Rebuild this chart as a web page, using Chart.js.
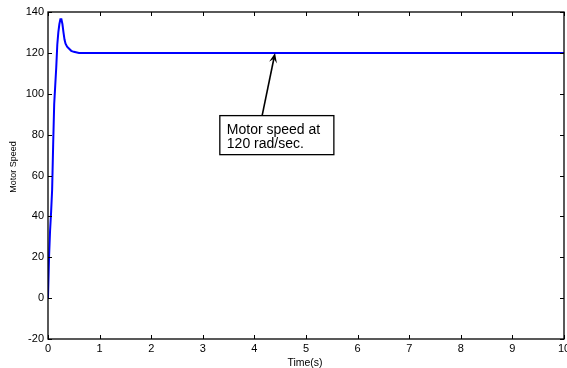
<!DOCTYPE html>
<html>
<head>
<meta charset="utf-8">
<script src="https://cdn.jsdelivr.net/npm/chart.js@4/dist/chart.umd.min.js"></script>
<style>
  html, body { margin: 0; padding: 0; background: #fff; }
  #wrap { width: 567px; height: 368px; position: relative; }
</style>
</head>
<body>
<div id="wrap"><canvas id="c" width="567" height="368"></canvas></div>
<script>
// Step response of the motor speed (rad/sec) against time (s)
const timeS = [0, 0.02, 0.04, 0.06, 0.08, 0.10, 0.12, 0.14, 0.16, 0.18, 0.20, 0.22, 0.24, 0.26, 0.28, 0.30, 0.32, 0.34, 0.37, 0.41, 0.45, 0.5, 0.6, 10];
const motorSpeed = [0, 20, 33, 42, 53, 75, 95, 104, 113, 124, 130, 134, 136.5, 136.5, 134, 130, 126.5, 124.5, 123, 122, 121, 120.5, 120, 120];

const xTicks = [0, 1, 2, 3, 4, 5, 6, 7, 8, 9, 10];
const yTicks = [-20, 0, 20, 40, 60, 80, 100, 120, 140];

const xTitle = 'Time(s)';
const yTitle = 'Motor Speed';
const noteLines = ['Motor speed at', '120 rad/sec.'];
// note box corners and arrow, in axis units (time, speed)
const noteBox = { x0: 3.33, x1: 5.54, y0: 89.3, y1: 70.2 };
const noteArrow = { from: [4.15, 89.3], to: [4.4, 120] };

const FONT = '"Liberation Sans", Arial, Helvetica, sans-serif';

const framePlugin = {
  id: 'frame',
  afterDraw(chart) {
    const { ctx, chartArea: a, scales } = chart;
    const xs = scales.x, ys = scales.y;
    ctx.save();
    // axes box
    ctx.strokeStyle = '#000';
    ctx.lineWidth = 1.3;
    ctx.strokeRect(a.left, a.top, a.right - a.left, a.bottom - a.top);
    // inward tick marks on all four sides
    const tl = 4;
    ctx.lineWidth = 1;
    ctx.beginPath();
    xTicks.forEach(v => {
      const px = Math.round(xs.getPixelForValue(v)) + 0.5;
      ctx.moveTo(px, a.bottom); ctx.lineTo(px, a.bottom - tl);
      ctx.moveTo(px, a.top); ctx.lineTo(px, a.top + tl);
    });
    yTicks.forEach(v => {
      const py = Math.round(ys.getPixelForValue(v)) + 0.5;
      ctx.moveTo(a.left, py); ctx.lineTo(a.left + tl, py);
      ctx.moveTo(a.right, py); ctx.lineTo(a.right - tl, py);
    });
    ctx.stroke();

    // axis titles
    ctx.fillStyle = '#000';
    ctx.textAlign = 'center';
    ctx.textBaseline = 'middle';
    ctx.font = '10.5px ' + FONT;
    ctx.fillText(xTitle, (a.left + a.right) / 2 - 1, 363);
    ctx.save();
    ctx.font = '9px ' + FONT;
    ctx.translate(14, 167);
    ctx.rotate(-Math.PI / 2);
    ctx.fillText(yTitle, 0, 0);
    ctx.restore();

    // annotation box
    const bx0 = xs.getPixelForValue(noteBox.x0), bx1 = xs.getPixelForValue(noteBox.x1);
    const by0 = ys.getPixelForValue(noteBox.y0), by1 = ys.getPixelForValue(noteBox.y1);
    ctx.fillStyle = '#fff';
    ctx.fillRect(bx0, by0, bx1 - bx0, by1 - by0);
    ctx.strokeStyle = '#000';
    ctx.lineWidth = 1.3;
    ctx.strokeRect(bx0, by0, bx1 - bx0, by1 - by0);
    ctx.fillStyle = '#000';
    ctx.font = '14px ' + FONT;
    ctx.textAlign = 'left';
    ctx.textBaseline = 'alphabetic';
    ctx.fillText(noteLines[0], bx0 + 7, by0 + 18);
    ctx.fillText(noteLines[1], bx0 + 7, by0 + 32);

    // arrow
    const ax0 = xs.getPixelForValue(noteArrow.from[0]), ay0 = ys.getPixelForValue(noteArrow.from[1]);
    const ax1 = xs.getPixelForValue(noteArrow.to[0]), ay1 = ys.getPixelForValue(noteArrow.to[1]);
    const ang = Math.atan2(ay1 - ay0, ax1 - ax0);
    const hl = 10, hw = 4;
    ctx.lineWidth = 1.6;
    ctx.beginPath();
    ctx.moveTo(ax0, ay0);
    ctx.lineTo(ax1 - Math.cos(ang) * hl * 0.6, ay1 - Math.sin(ang) * hl * 0.6);
    ctx.stroke();
    ctx.beginPath();
    ctx.moveTo(ax1, ay1);
    ctx.lineTo(ax1 - Math.cos(ang) * hl - Math.sin(ang) * hw, ay1 - Math.sin(ang) * hl + Math.cos(ang) * hw);
    ctx.lineTo(ax1 - Math.cos(ang) * hl * 0.6, ay1 - Math.sin(ang) * hl * 0.6);
    ctx.lineTo(ax1 - Math.cos(ang) * hl + Math.sin(ang) * hw, ay1 - Math.sin(ang) * hl - Math.cos(ang) * hw);
    ctx.closePath();
    ctx.fill();
    ctx.restore();
  }
};

new Chart(document.getElementById('c'), {
  type: 'line',
  data: {
    datasets: [{
      data: timeS.map((t, i) => ({ x: t, y: motorSpeed[i] })),
      borderColor: '#0000ff',
      borderWidth: 2,
      pointRadius: 0,
      tension: 0,
      fill: false
    }]
  },
  options: {
    responsive: false,
    animation: false,
    devicePixelRatio: 1,
    layout: { padding: { left: 0, right: 3, top: 12, bottom: 0 } },
    plugins: { legend: { display: false }, tooltip: { enabled: false } },
    scales: {
      x: {
        type: 'linear',
        min: 0, max: 10,
        afterBuildTicks(s) { s.ticks = xTicks.map(v => ({ value: v })); },
        afterFit(s) { s.height = 29; s.paddingLeft = 0; s.paddingRight = 0; },
        grid: { display: false, drawTicks: false },
        border: { display: false },
        ticks: { color: '#000', font: { family: FONT, size: 11 }, padding: 3, maxRotation: 0, autoSkip: false }
      },
      y: {
        type: 'linear',
        min: -20, max: 140,
        afterBuildTicks(s) { s.ticks = yTicks.map(v => ({ value: v })); },
        afterFit(s) { s.width = 48; s.paddingTop = 0; s.paddingBottom = 0; },
        grid: { display: false, drawTicks: false },
        border: { display: false },
        ticks: { color: '#000', font: { family: FONT, size: 11 }, padding: 4, autoSkip: false }
      }
    }
  },
  plugins: [framePlugin]
});
</script>
</body>
</html>
